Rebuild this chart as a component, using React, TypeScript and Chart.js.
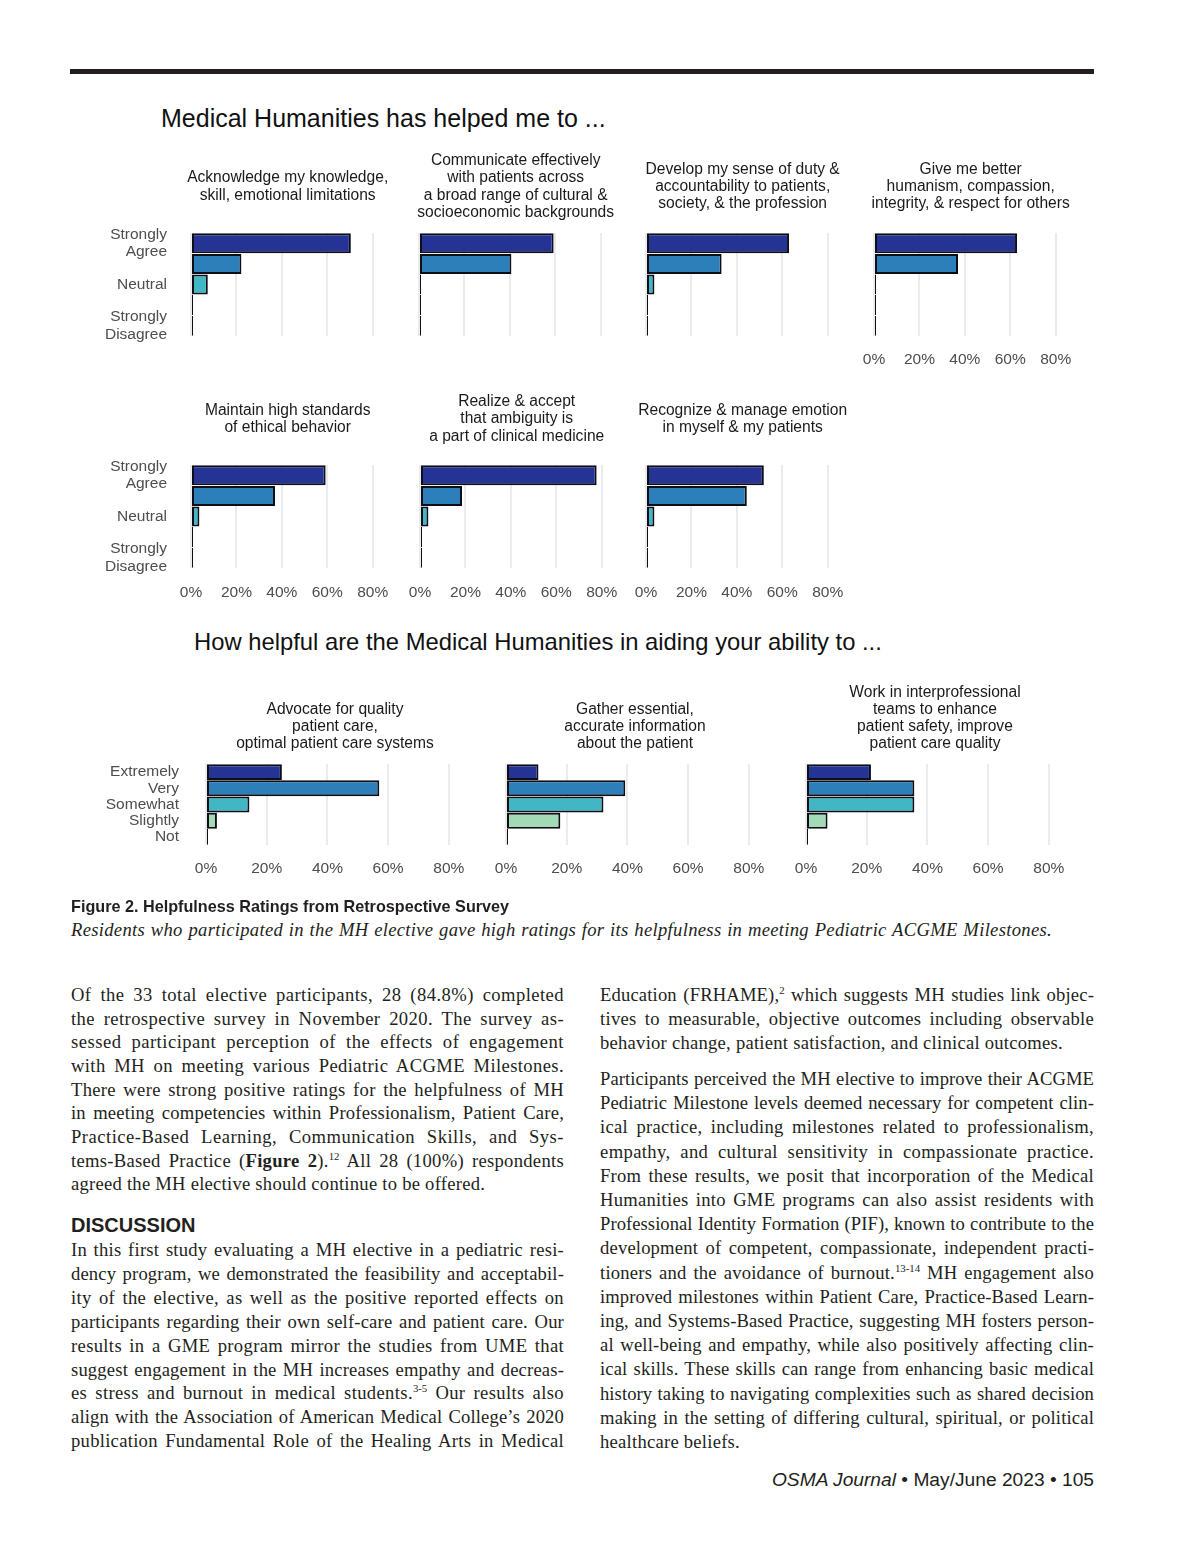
import React, { useEffect, useLayoutEffect, useRef } from "react";
import { Chart, registerables } from "chart.js";

Chart.register(...registerables);

// ---------- data ----------
const agreeCategories = ["Strongly Agree", "Agree", "Neutral", "Disagree", "Strongly Disagree"];
const agreeTickLabels: (string | string[])[] = [["Strongly", "Agree"], "", "Neutral", "", ["Strongly", "Disagree"]];
const helpCategories = ["Extremely", "Very", "Somewhat", "Slightly", "Not"];
const helpTickLabels: (string | string[])[] = ["Extremely", "Very", "Somewhat", "Slightly", "Not"];
const percentTicks = [0, 20, 40, 60, 80];
const percentTickLabels = ["0%", "20%", "40%", "60%", "80%"];
const levelColors = ["#253494", "#2c7fb8", "#41b6c4", "#a1dab4", "#ffffcc"];

// percent of respondents
const acknowledgeValues = [70.4, 22.2, 7.4, 0, 0];
const communicateValues = [59.3, 40.7, 0, 0, 0];
const dutyValues = [63.0, 33.3, 3.7, 0, 0];
const humanismValues = [63.0, 37.0, 0, 0, 0];
const ethicalValues = [59.3, 37.0, 3.7, 0, 0];
const ambiguityValues = [77.8, 18.5, 3.7, 0, 0];
const emotionValues = [51.9, 44.4, 3.7, 0, 0];
const advocateValues = [25.0, 57.1, 14.3, 3.6, 0];
const gatherValues = [10.7, 39.3, 32.1, 17.9, 0];
const teamworkValues = [21.4, 35.7, 35.7, 7.1, 0];

const acknowledgeTitle = ["Acknowledge my knowledge,", "skill, emotional limitations"];
const communicateTitle = ["Communicate effectively", "with patients across", "a broad range of cultural &", "socioeconomic backgrounds"];
const dutyTitle = ["Develop my sense of duty &", "accountability to patients,", "society, & the profession"];
const humanismTitle = ["Give me better", "humanism, compassion,", "integrity, & respect for others"];
const ethicalTitle = ["Maintain high standards", "of ethical behavior"];
const ambiguityTitle = ["Realize & accept", "that ambiguity is", "a part of clinical medicine"];
const emotionTitle = ["Recognize & manage emotion", "in myself & my patients"];
const advocateTitle = ["Advocate for quality", "patient care,", "optimal patient care systems"];
const gatherTitle = ["Gather essential,", "accurate information", "about the patient"];
const teamworkTitle = ["Work in interprofessional", "teams to enhance", "patient safety, improve", "patient care quality"];

const sectionTitle1 = "Medical Humanities has helped me to ...";
const sectionTitle2 = "How helpful are the Medical Humanities in aiding your ability to ...";

const X_MAX = 85;
const CHART_FONT = '"Liberation Sans", Arial, sans-serif';
const SERIF = '"Liberation Serif", "Times New Roman", serif';

type PanelProps = {
  zeroX: number;
  gridTop: number;
  step20: number;
  plotH: number;
  yAxisW: number;
  yPad: number;
  xPad: number;
  categories: string[];
  values: number[];
  yLabels: (string | string[])[];
  showY: boolean;
  showX: boolean;
  barPct: number;
};

function BarPanel(p: PanelProps) {
  const ref = useRef<HTMLCanvasElement>(null);
  const padTop = 60;
  const padRight = 26;
  const xAxisH = 60;
  const plotW = (X_MAX / 20) * p.step20;
  const width = Math.round(p.yAxisW + plotW + padRight);
  const height = Math.round(padTop + p.plotH + xAxisH);
  useEffect(() => {
    const chart = new Chart(ref.current!, {
      type: "bar",
      data: {
        labels: p.categories,
        datasets: [
          {
            data: p.values,
            backgroundColor: levelColors,
            borderColor: "#0e0e18",
            borderWidth: 2,
            borderSkipped: false,
            minBarLength: 2,
            barPercentage: p.barPct,
            categoryPercentage: 1,
          },
        ],
      },
      options: {
        indexAxis: "y",
        animation: false,
        responsive: false,
        maintainAspectRatio: false,
        layout: { padding: { top: padTop, right: padRight, left: 0, bottom: 0 } },
        plugins: { legend: { display: false }, tooltip: { enabled: false } },
        scales: {
          x: {
            type: "linear",
            min: 0,
            max: X_MAX,
            afterFit: (s: any) => {
              s.height = xAxisH;
            },
            afterBuildTicks: (s: any) => {
              s.ticks = percentTicks.map((v) => ({ value: v }));
            },
            grid: { color: "#ebebeb", lineWidth: 2, drawTicks: false },
            border: { display: false },
            ticks: {
              display: p.showX,
              padding: p.xPad,
              color: "#4d4d4d",
              font: { family: CHART_FONT, size: 15.5 },
              callback: (v: any) => percentTickLabels[percentTicks.indexOf(Number(v))],
            },
          },
          y: {
            type: "category",
            afterFit: (s: any) => {
              s.width = p.yAxisW;
            },
            grid: { display: false, drawTicks: false },
            border: { display: false },
            ticks: {
              display: p.showY,
              autoSkip: false,
              padding: p.yPad,
              color: "#4d4d4d",
              font: { family: CHART_FONT, size: 15.5, lineHeight: 1.1 },
              callback: (_v: any, i: number) => p.yLabels[i],
            },
          },
        },
      },
    } as any);
    return () => chart.destroy();
  }, []);
  return (
    <canvas
      ref={ref}
      width={width}
      height={height}
      style={{
        position: "absolute",
        left: p.zeroX - p.yAxisW,
        top: p.gridTop - padTop,
        width,
        height,
      }}
    />
  );
}

function StripTitle({ cx, y, lines, mode }: { cx: number; y: number; lines: string[]; mode: "center" | "bottom" }) {
  const lh = 17.2;
  const h = lines.length * lh;
  const top = mode === "center" ? y - h / 2 : y + lh / 2 - h;
  return (
    <div
      style={{
        position: "absolute",
        left: cx - 160,
        width: 320,
        top,
        textAlign: "center",
        fontFamily: CHART_FONT,
        fontSize: 15.6,
        lineHeight: lh + "px",
        color: "#1a1a1a",
        whiteSpace: "nowrap",
      }}
    >
      {lines.map((l, i) => (
        <div key={i}>{l}</div>
      ))}
    </div>
  );
}

// ---------- page text ----------
const leftPara1 = [
  "Of the 33 total elective participants, 28 (84.8%) completed",
  "the retrospective survey in November 2020. The survey as-",
  "sessed participant perception of the effects of engagement",
  "with MH on meeting various Pediatric ACGME Milestones.",
  "There were strong positive ratings for the helpfulness of MH",
  "in meeting competencies within Professionalism, Patient Care,",
  "Practice-Based Learning, Communication Skills, and Sys-",
  "tems-Based Practice (**Figure 2**).^12^ All 28 (100%) respondents",
  "agreed the MH elective should continue to be offered.",
];
const leftPara2 = [
  "In this first study evaluating a MH elective in a pediatric resi-",
  "dency program, we demonstrated the feasibility and acceptabil-",
  "ity of the elective, as well as the positive reported effects on",
  "participants regarding their own self-care and patient care. Our",
  "results in a GME program mirror the studies from UME that",
  "suggest engagement in the MH increases empathy and decreas-",
  "es stress and burnout in medical students.^3-5^ Our results also",
  "align with the Association of American Medical College\u2019s 2020",
  "publication Fundamental Role of the Healing Arts in Medical",
];
const rightPara1 = [
  "Education (FRHAME),^2^ which suggests MH studies link objec-",
  "tives to measurable, objective outcomes including observable",
  "behavior change, patient satisfaction, and clinical outcomes.",
];
const rightPara2 = [
  "Participants perceived the MH elective to improve their ACGME",
  "Pediatric Milestone levels deemed necessary for competent clin-",
  "ical practice, including milestones related to professionalism,",
  "empathy, and cultural sensitivity in compassionate practice.",
  "From these results, we posit that incorporation of the Medical",
  "Humanities into GME programs can also assist residents with",
  "Professional Identity Formation (PIF), known to contribute to the",
  "development of competent, compassionate, independent practi-",
  "tioners and the avoidance of burnout.^13-14^ MH engagement also",
  "improved milestones within Patient Care, Practice-Based Learn-",
  "ing, and Systems-Based Practice, suggesting MH fosters person-",
  "al well-being and empathy, while also positively affecting clin-",
  "ical skills. These skills can range from enhancing basic medical",
  "history taking to navigating complexities such as shared decision",
  "making in the setting of differing cultural, spiritual, or political",
  "healthcare beliefs.",
];
const captionTitle = "Figure 2. Helpfulness Ratings from Retrospective Survey";
const captionText = "Residents who participated in the MH elective gave high ratings for its helpfulness in meeting Pediatric ACGME Milestones.";

function renderInline(s: string) {
  const parts = s.split(/(\*\*[^*]+\*\*|\^[^^]+\^)/);
  return parts.map((p, i) => {
    if (p.startsWith("**")) return <b key={i}>{p.slice(2, -2)}</b>;
    if (p.startsWith("^"))
      return (
        <sup key={i} style={{ fontSize: "0.58em", lineHeight: 0, verticalAlign: "0.62em", letterSpacing: 0 }}>
          {p.slice(1, -1)}
        </sup>
      );
    return <React.Fragment key={i}>{p}</React.Fragment>;
  });
}

// A single typeset line: spreads part of the slack as letter spacing, the rest by justification.
function FitLine({ x, top, w, text, justify, share, style }: { x: number; top: number; w: number; text: string; justify: boolean; share: number; style: any }) {
  const ref = useRef<HTMLDivElement>(null);
  useLayoutEffect(() => {
    const el = ref.current!;
    const span = el.firstChild as HTMLElement;
    el.style.textAlign = "left";
    el.style.textAlignLast = "left";
    span.style.letterSpacing = "0px";
    const natural = span.getBoundingClientRect().width;
    const chars = span.textContent ? span.textContent.length : 1;
    const slack = w - natural;
    if (justify && slack > 0) {
      span.style.letterSpacing = ((slack * share) / chars).toFixed(3) + "px";
      el.style.textAlign = "justify";
      el.style.textAlignLast = "justify";
    } else if (!justify) {
      span.style.letterSpacing = "0.25px";
    }
  }, []);
  return (
    <div
      ref={ref}
      style={{
        position: "absolute",
        left: x,
        top,
        width: w,
        whiteSpace: "nowrap",
        ...style,
      }}
    >
      <span>{renderInline(text)}</span>
    </div>
  );
}

const bodyStyle = {
  height: 24,
  lineHeight: "24px",
  fontFamily: SERIF,
  fontSize: 18.6,
  color: "#231f20",
};

function Paragraph({ x, y0, step, w, lines, justifyLast }: { x: number; y0: number; step: number; w: number; lines: string[]; justifyLast: boolean }) {
  return (
    <>
      {lines.map((t, i) => {
        const last = i === lines.length - 1 && !justifyLast;
        return <FitLine key={i} x={x} top={y0 + i * step - 12} w={w} text={t} justify={!last} share={0.45} style={bodyStyle} />;
      })}
    </>
  );
}

export default function App() {
  const r1 = { gridTop: 232.5, plotH: 103, step20: 45.5, xPad: 14, barPct: 0.97 };
  const r2 = { gridTop: 465, plotH: 103, step20: 45.5, xPad: 15, barPct: 0.97 };
  const r3 = { gridTop: 763.5, plotH: 80.5, step20: 60.7, xPad: 14, barPct: 0.98 };
  const half1 = ((X_MAX / 20) * 45.5) / 2;
  const half3 = ((X_MAX / 20) * 60.7) / 2;

  return (
    <div style={{ position: "absolute", left: 0, top: 0, width: 1200, height: 1553, background: "#ffffff", overflow: "hidden" }}>
      <div style={{ position: "absolute", left: 70, top: 69, width: 1024, height: 5, background: "#231f20" }} />

      <div style={{ position: "absolute", left: 161, top: 104, fontFamily: CHART_FONT, fontSize: 25, lineHeight: "28px", color: "#111", whiteSpace: "nowrap" }}>
        {sectionTitle1}
      </div>

      {/* Row 1 */}
      <BarPanel {...r1} zeroX={191} yAxisW={120} yPad={24} categories={agreeCategories} values={acknowledgeValues} yLabels={agreeTickLabels} showY={true} showX={false} />
      <BarPanel {...r1} zeroX={419} yAxisW={30} yPad={0} categories={agreeCategories} values={communicateValues} yLabels={agreeTickLabels} showY={false} showX={false} />
      <BarPanel {...r1} zeroX={646} yAxisW={30} yPad={0} categories={agreeCategories} values={dutyValues} yLabels={agreeTickLabels} showY={false} showX={false} />
      <BarPanel {...r1} zeroX={874} yAxisW={30} yPad={0} categories={agreeCategories} values={humanismValues} yLabels={agreeTickLabels} showY={false} showX={true} />
      <StripTitle cx={191 + half1} y={185.5} lines={acknowledgeTitle} mode="center" />
      <StripTitle cx={419 + half1} y={185.5} lines={communicateTitle} mode="center" />
      <StripTitle cx={646 + half1} y={185.5} lines={dutyTitle} mode="center" />
      <StripTitle cx={874 + half1} y={185.5} lines={humanismTitle} mode="center" />

      {/* Row 2 */}
      <BarPanel {...r2} zeroX={191} yAxisW={120} yPad={24} categories={agreeCategories} values={ethicalValues} yLabels={agreeTickLabels} showY={true} showX={true} />
      <BarPanel {...r2} zeroX={420} yAxisW={30} yPad={0} categories={agreeCategories} values={ambiguityValues} yLabels={agreeTickLabels} showY={false} showX={true} />
      <BarPanel {...r2} zeroX={646} yAxisW={30} yPad={0} categories={agreeCategories} values={emotionValues} yLabels={agreeTickLabels} showY={false} showX={true} />
      <StripTitle cx={191 + half1} y={418} lines={ethicalTitle} mode="center" />
      <StripTitle cx={420 + half1} y={418} lines={ambiguityTitle} mode="center" />
      <StripTitle cx={646 + half1} y={418} lines={emotionTitle} mode="center" />

      <div style={{ position: "absolute", left: 194, top: 628, fontFamily: CHART_FONT, fontSize: 23.8, lineHeight: "28px", color: "#111", whiteSpace: "nowrap" }}>
        {sectionTitle2}
      </div>

      {/* Row 3 */}
      <BarPanel {...r3} zeroX={206} yAxisW={130} yPad={27} categories={helpCategories} values={advocateValues} yLabels={helpTickLabels} showY={true} showX={true} />
      <BarPanel {...r3} zeroX={506} yAxisW={30} yPad={0} categories={helpCategories} values={gatherValues} yLabels={helpTickLabels} showY={false} showX={true} />
      <BarPanel {...r3} zeroX={806} yAxisW={30} yPad={0} categories={helpCategories} values={teamworkValues} yLabels={helpTickLabels} showY={false} showX={true} />
      <StripTitle cx={206 + half3} y={743} lines={advocateTitle} mode="bottom" />
      <StripTitle cx={506 + half3} y={743} lines={gatherTitle} mode="bottom" />
      <StripTitle cx={806 + half3} y={743} lines={teamworkTitle} mode="bottom" />

      {/* Caption */}
      <div style={{ position: "absolute", left: 71, top: 896, fontFamily: CHART_FONT, fontWeight: 700, fontSize: 16.2, lineHeight: "20px", color: "#231f20", whiteSpace: "nowrap" }}>
        {captionTitle}
      </div>
      <FitLine
        x={71}
        top={918}
        w={981}
        text={captionText}
        justify={true}
        share={0.75}
        style={{ fontFamily: SERIF, fontStyle: "italic", fontSize: 18.6, lineHeight: "24px", color: "#231f20" }}
      />

      {/* Body columns */}
      <Paragraph x={71} y0={995} step={23.65} w={493} lines={leftPara1} justifyLast={false} />
      <div style={{ position: "absolute", left: 71, top: 1213, fontFamily: CHART_FONT, fontWeight: 700, fontSize: 20, lineHeight: "24px", color: "#231f20" }}>DISCUSSION</div>
      <Paragraph x={71} y0={1250} step={23.9} w={493} lines={leftPara2} justifyLast={true} />
      <Paragraph x={600} y0={995} step={24} w={494} lines={rightPara1} justifyLast={false} />
      <Paragraph x={600} y0={1079} step={24.2} w={494} lines={rightPara2} justifyLast={false} />

      {/* Footer */}
      <div style={{ position: "absolute", right: 1200 - 1094, top: 1468, fontFamily: CHART_FONT, fontSize: 19.2, lineHeight: "24px", color: "#231f20", whiteSpace: "nowrap" }}>
        <i>OSMA Journal</i> {"\u2022"} May/June 2023 {"\u2022"} 105
      </div>
    </div>
  );
}
